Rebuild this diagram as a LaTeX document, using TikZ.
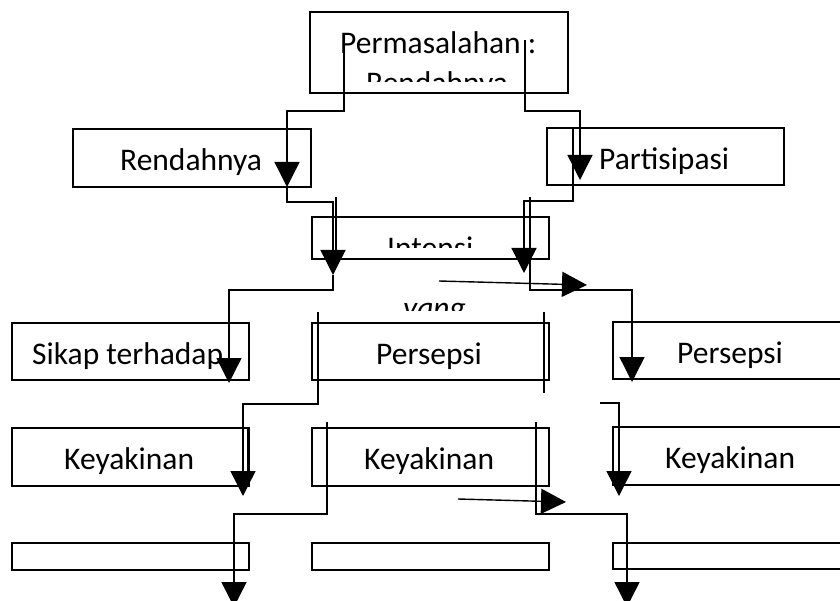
\documentclass[tikz,border=0pt]{standalone}
\usepackage{fontspec}
\setmainfont{Carlito}
\usetikzlibrary{arrows.meta}
\tikzset{
  box/.style={draw=black, line width=2.2pt, inner sep=0pt, minimum width=237pt, fill=none},
  conn/.style={draw=black, line width=1.4pt},
  tip/.style={-{Triangle[width=25pt,length=25pt]}},
  lbl/.style={anchor=base west, inner sep=0pt, font=\fontsize{31.5}{37}\selectfont},
}
\begin{document}
\begin{tikzpicture}[x=1pt,y=-1pt]
\useasboundingbox (0,0) rectangle (840,601);
% boxes
\node[box, minimum width=258pt, minimum height=81pt] (top) at (439,52.5) {};
\node[box, minimum width=238pt, minimum height=58pt] (rend) at (192,158) {};
\node[box, minimum height=57pt] (part) at (665.5,156.5) {};
\node[box, minimum height=42pt] (intensi) at (430.5,238) {};
\node[box, minimum height=57pt] (sikap) at (130.5,351.5) {};
\node[box, minimum height=57pt] (persA) at (430.5,351.5) {};
\node[box, minimum height=57pt] (persB) at (731.5,350.5) {};
\node[box, minimum height=58pt] (keyA) at (130.5,457) {};
\node[box, minimum height=58pt] (keyB) at (430.5,457) {};
\node[box, minimum height=58pt] (keyC) at (731.5,456) {};
\node[box, minimum height=27pt] (botA) at (130.5,556.5) {};
\node[box, minimum height=27pt] (botB) at (430.5,556.5) {};
\node[box, minimum height=26pt] (botC) at (731.5,556) {};
% texts
\node[lbl] (t1) at (340,54) {Permasalahan :};
\begin{scope}
\clip (300,60) rectangle (580,82);
\node[lbl] (t2) at (366,94) {Rendahnya};
\end{scope}
\node[lbl] (t3) at (120,171) {Rendahnya};
\node[lbl] (t4) at (599,170) {Partisipasi};
\begin{scope}
\clip (300,225) rectangle (560,248);
\node[lbl] (t5) at (387,259) {Intensi};
\end{scope}
\begin{scope}
\clip (380,295) rectangle (480,311);
\node[lbl, font=\fontsize{31.5}{37}\selectfont\itshape] (t6) at (403,319) {yang};
\end{scope}
\node[lbl] (t7) at (32,364) {Sikap terhadap};
\node[lbl] (t8) at (376,364) {Persepsi};
\node[lbl] (t9) at (677,363) {Persepsi};
\node[lbl] (t10) at (64,469) {Keyakinan};
\node[lbl] (t11) at (364,469) {Keyakinan};
\node[lbl] (t12) at (665,468) {Keyakinan};
% connectors
\draw[conn,tip] (344,50) -- (344,111) -- (287,111) -- (287,187);
\draw[conn,tip] (287,187) -- (287,202) -- (333,202) -- (333,275);
\draw[conn] (336,197) -- (336,250);
\draw[conn,tip] (333,275) -- (333,290) -- (229,290) -- (229,383);
\draw[conn,tip] (525,40) -- (525,111) -- (580,111) -- (580,180);
\draw[conn,tip] (573,128) -- (573,201) -- (524,201) -- (524,273);
\draw[conn,tip] (530,197) -- (530,290) -- (632,290) -- (632,382);
\draw[conn,tip] (439,281) -- (587,285);
\draw[conn,tip] (318,312) -- (318,404) -- (243,404) -- (243,496);
\draw[conn] (247.5,428) -- (247.5,472);
\draw[conn] (544,312) -- (544,393);
\draw[conn,tip] (600,403) -- (619,403) -- (619,496);
\draw[conn,tip] (327,422) -- (327,514) -- (234,514) -- (234,607);
\draw[conn,tip] (536,422) -- (536,514) -- (627,514) -- (627,607);
\draw[conn,tip] (458,499) -- (566,502);
\end{tikzpicture}
\end{document}
